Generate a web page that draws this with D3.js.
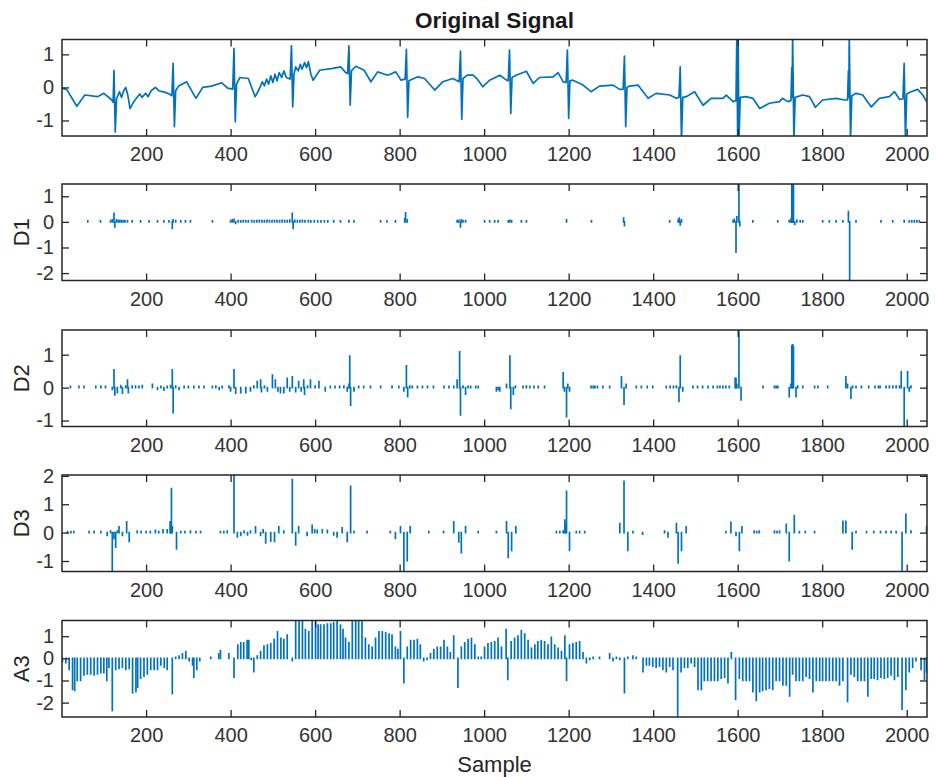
<!DOCTYPE html>
<html><head><meta charset="utf-8">
<script src="https://cdn.jsdelivr.net/npm/d3@7"></script>
<style>
body{margin:0;background:#fff;}
svg text{font-family:"Liberation Sans",Arial,Helvetica,sans-serif;}
</style></head>
<body><svg id="c" width="936" height="777"></svg>
<script>
// ---------- data ----------
const xTicks = [200,400,600,800,1000,1200,1400,1600,1800,2000];
const panelNames = ["", "D1", "D2", "D3", "A3"];
const titleText = "Original Signal";
const xLabelText = "Sample";

const sigX = [1,12,36,55,85,100,119,122,124,127,130,137,142,147,152,157,162,170,177,185,190,199,205,212,222,230,245,255,261,264,267,270,277,296,318,334,355,379,393,405,408,411,414,422,442,458,466,475,480,485,490,495,500,505,510,515,521,526,532,538,541,544,547,550,554,560,565,569,575,580,584,590,595,611,638,661,672,677,680,683,686,696,716,732,748,772,791,803,813,816,819,822,843,859,883,902,926,941,944,947,950,960,974,984,997,1013,1037,1053,1057,1060,1063,1066,1076,1100,1116,1131,1163,1175,1187,1194,1197,1200,1203,1210,1234,1253,1273,1305,1321,1329,1332,1335,1338,1344,1364,1388,1407,1439,1455,1461,1464,1467,1470,1478,1498,1518,1537,1565,1573,1589,1596,1598,1600,1601,1603,1606,1620,1636,1652,1675,1699,1706,1719,1726,1728,1729,1730,1733,1736,1754,1770,1784,1801,1833,1853,1860,1862,1863,1864,1867,1870,1880,1896,1916,1935,1959,1971,1983,1991,1994,1997,2000,2010,2026,2038,2047];
const sigY = [-0.03,-0.06,-0.57,-0.23,-0.28,-0.18,-0.38,-0.45,0.52,-1.35,-0.35,-0.13,-0.3,-0.1,0.0,-0.25,-0.64,-0.45,-0.33,-0.2,-0.3,-0.18,-0.28,-0.1,0.0,-0.1,-0.15,-0.2,-0.25,0.73,-1.19,-0.1,0.04,0.17,-0.33,0.0,0.04,0.14,-0.02,-0.05,1.18,-1.04,0.1,0.3,0.27,-0.28,-0.1,0.17,0.05,0.25,0.1,0.35,0.15,0.4,0.2,0.45,0.3,0.5,0.3,0.27,0.25,1.26,-0.59,0.4,0.62,0.5,0.7,0.55,0.75,0.6,0.78,0.4,0.22,0.52,0.57,0.62,0.45,0.42,1.26,-0.54,0.5,0.64,0.52,0.17,0.47,0.37,0.47,0.22,0.25,1.15,-0.91,0.2,0.32,0.27,-0.08,0.17,0.27,0.17,1.1,-0.96,0.27,0.37,0.37,0.25,0.02,0.22,0.37,0.22,0.2,1.13,-0.79,0.3,0.37,0.49,0.12,0.3,0.32,0.45,0.17,0.15,1.13,-0.94,0.2,0.22,0.07,-0.13,0.04,0.07,-0.06,-0.05,0.95,-1.19,0.0,0.04,0.07,-0.33,-0.18,-0.23,-0.33,-0.3,0.62,-1.6,-0.3,-0.28,-0.13,-0.54,-0.33,-0.33,-0.23,-0.43,-0.4,1.6,-1.6,1.6,-1.6,-0.3,-0.28,-0.33,-0.64,-0.48,-0.43,-0.33,-0.43,-0.4,0.6,-0.3,1.6,-1.6,-0.3,-0.23,-0.28,-0.6,-0.38,-0.33,-0.38,-0.38,0.5,-0.3,1.6,-1.6,-0.25,-0.18,-0.23,-0.59,-0.33,-0.28,-0.13,-0.36,-0.35,0.73,-1.6,-0.2,-0.13,-0.06,-0.23,-0.43];

const d1X = [62,92,116,120,124,126,130,134,138,142,146,150,156,167,187,207,227,242,254,262,264,270,282,293,305,357,400,404,408,412,418,424,430,436,442,450,456,462,468,474,480,486,492,498,504,510,516,522,528,534,540,546,548,552,558,564,570,576,584,590,598,606,614,622,630,644,660,680,692,755,770,790,812,814,818,936,940,944,946,950,956,1001,1013,1025,1033,1057,1061,1065,1088,1100,1195,1254,1330,1332,1439,1459,1462,1464,1467,1589,1592,1596,1598,1603,1605,1636,1695,1722,1726,1728,1729,1730,1731,1732,1735,1740,1748,1754,1801,1817,1833,1849,1862,1865,1880,1939,1967,1994,2006,2012,2018,2024,2030];
const d1Y = [0.04,0.04,0.05,0.08,0.33,-0.2,0.08,0.05,0.06,0.05,0.04,0.05,0.04,0.04,0.04,0.04,0.04,0.04,0.04,-0.25,0.08,0.05,0.04,0.04,0.04,0.04,0.05,0.08,0.1,-0.06,0.05,0.04,0.05,0.04,0.05,0.05,0.04,0.05,0.06,0.05,0.05,0.06,0.05,0.05,0.06,0.05,0.05,0.06,0.05,0.05,0.07,0.33,-0.25,0.06,0.05,0.05,0.06,0.05,0.05,0.04,0.05,0.04,0.04,0.04,0.04,0.04,0.04,0.05,0.04,0.04,0.04,0.04,0.12,0.35,0.08,0.05,0.06,-0.2,0.08,0.05,0.05,0.04,0.04,0.04,0.04,0.04,0.06,0.04,0.04,0.04,0.08,0.04,0.15,-0.15,0.04,0.08,0.15,-0.12,0.08,0.05,0.1,-1.18,0.2,1.6,-0.15,0.04,0.04,0.05,0.1,1.6,1.18,1.6,1.2,1.6,-0.1,0.06,0.04,0.04,0.04,0.04,0.04,0.04,0.4,-2.4,0.04,0.04,0.04,0.05,0.04,0.04,0.05,0.04,0.04];

const d2X = [21,41,53,81,93,104,120,124,126,132,140,144,152,156,158,167,175,183,191,215,227,235,242,250,258,262,264,270,278,290,300,313,325,337,357,365,373,380,396,400,408,412,424,436,447,455,463,471,473,480,487,499,506,512,518,526,534,540,546,554,561,567,573,575,582,589,600,609,624,636,647,658,668,676,680,682,684,692,703,715,731,755,782,798,810,816,819,824,830,842,854,866,880,905,917,928,936,942,944,950,956,962,968,980,986,1029,1033,1037,1053,1061,1063,1069,1074,1092,1100,1108,1118,1128,1143,1187,1190,1195,1198,1202,1253,1258,1262,1268,1281,1297,1325,1331,1336,1360,1372,1386,1399,1431,1440,1448,1455,1461,1464,1470,1494,1505,1517,1530,1542,1552,1558,1565,1572,1580,1594,1596,1598,1603,1608,1660,1687,1691,1695,1722,1726,1728,1730,1732,1738,1742,1754,1782,1790,1813,1856,1860,1868,1872,1880,1893,1910,1925,1933,1937,1951,1959,1967,1975,1983,1987,1994,2002,2006,2010,2048];
const d2Y = [0.04,0.04,0.04,0.04,0.05,0.04,-0.05,0.54,-0.22,-0.15,0.06,-0.17,0.05,0.23,-0.15,0.05,0.05,0.04,0.06,0.1,-0.05,0.04,-0.08,0.04,0.06,0.54,-0.76,0.05,-0.05,0.04,0.04,0.04,0.04,0.04,0.04,0.05,-0.05,0.04,0.05,-0.1,0.54,-0.17,-0.15,-0.15,-0.1,0.05,0.18,0.23,-0.12,0.05,-0.1,0.38,0.23,-0.1,-0.15,-0.15,0.28,-0.1,0.33,-0.12,0.18,-0.1,0.23,-0.2,0.05,0.23,0.05,0.18,-0.1,0.04,0.04,0.04,0.05,-0.1,0.1,0.96,-0.53,-0.1,0.04,0.04,0.04,0.04,0.05,0.04,-0.1,0.66,-0.27,0.05,0.04,0.04,0.04,0.04,0.04,0.04,0.04,0.04,0.23,1.09,-0.83,0.05,-0.2,0.04,0.04,0.04,0.04,-0.1,-0.05,-0.1,0.1,0.96,-0.63,-0.2,0.05,0.04,0.05,0.04,0.04,0.04,0.04,0.45,-0.1,-0.88,0.1,-0.1,0.04,0.04,0.04,0.04,0.04,0.04,0.33,-0.5,0.1,0.04,0.04,0.04,0.04,0.04,0.04,0.04,0.05,-0.42,0.96,-0.1,0.04,0.04,0.04,0.04,0.04,0.04,0.04,0.04,0.04,0.04,0.28,0.28,0.1,1.8,-0.37,0.04,0.04,0.04,0.04,-0.27,0.1,1.27,1.3,1.25,-0.27,0.05,0.04,0.04,0.04,0.04,0.33,0.1,-0.32,0.05,0.04,0.04,0.04,0.04,0.04,0.04,0.04,0.05,0.05,0.05,0.05,0.48,-1.3,0.48,-0.1,0.05,0.05];

const d3X = [14,22,29,65,77,93,108,116,120,124,128,132,136,144,154,160,179,188,200,210,222,230,240,250,257,258,260,262,272,282,292,305,318,329,376,384,392,408,416,424,432,440,447,459,471,477,483,495,504,514,526,546,554,561,581,593,599,605,617,629,644,652,664,676,684,692,723,778,790,802,810,818,825,869,904,928,940,946,956,986,1029,1053,1057,1065,1075,1171,1179,1187,1191,1193,1195,1202,1218,1226,1238,1321,1331,1340,1352,1375,1427,1435,1455,1459,1467,1478,1572,1584,1596,1604,1610,1639,1645,1651,1687,1693,1699,1715,1722,1734,1746,1760,1782,1849,1856,1871,1880,1905,1922,1938,1951,1963,1975,1989,1998,2010,2047];
const d3Y = [0.04,0.04,0.04,0.04,0.04,0.04,-0.1,0.05,-1.5,-0.2,-0.51,0.05,0.2,-0.1,0.38,-0.31,0.05,0.04,0.04,0.04,0.08,0.04,0.1,0.1,0.38,0.3,1.55,0.2,-0.57,0.04,0.04,0.05,0.04,0.04,0.04,0.04,0.05,2.1,-0.15,-0.1,0.05,-0.08,0.05,0.2,-0.1,0.1,-0.36,-0.3,-0.31,0.2,0.05,1.87,-0.43,0.2,-0.1,0.26,0.1,0.08,0.1,0.08,-0.08,-0.15,0.17,-0.31,1.63,0.04,0.04,0.04,-0.2,0.2,-1.5,-0.99,0.2,0.04,0.04,0.38,-0.33,-0.71,0.2,0.04,0.04,0.38,-0.87,-0.63,0.2,0.04,0.04,0.05,0.44,0.3,1.45,-0.63,0.04,0.04,0.04,0.32,1.81,-0.63,0.04,-0.05,0.05,-0.15,0.32,-1.07,-0.63,0.2,0.04,0.36,-0.1,-0.63,0.2,0.05,0.04,0.05,0.05,0.04,0.05,0.29,-0.99,0.6,0.04,0.04,0.04,0.4,0.4,-0.57,0.04,0.04,0.04,0.04,0.04,0.04,0.04,-1.5,0.64,0.05,0.2];

const a3X = [2,10,18,26,31,37,45,53,61,69,77,85,93,100,107,112,120,128,136,144,152,160,168,176,180,187,195,203,211,219,227,235,243,250,262,270,278,286,294,302,310,313,320,327,353,372,376,396,408,417,424,431,439,443,449,455,463,471,479,487,495,503,511,519,526,534,546,554,562,570,577,585,593,601,607,613,621,629,637,644,652,660,666,672,680,688,696,703,711,719,727,735,743,751,759,767,775,782,790,796,802,810,818,826,834,842,849,857,865,873,881,889,897,905,913,920,928,938,946,954,962,970,978,986,993,1001,1009,1017,1025,1033,1041,1052,1056,1064,1072,1080,1088,1096,1104,1112,1120,1127,1135,1143,1151,1159,1167,1175,1183,1191,1195,1202,1210,1218,1226,1234,1242,1250,1258,1273,1297,1305,1313,1321,1332,1340,1352,1360,1376,1384,1391,1399,1407,1415,1423,1431,1439,1447,1458,1466,1474,1482,1490,1498,1506,1514,1521,1529,1537,1545,1553,1561,1569,1577,1585,1595,1604,1612,1620,1628,1636,1644,1652,1659,1667,1675,1683,1691,1699,1707,1715,1723,1730,1738,1746,1754,1762,1770,1778,1786,1794,1801,1809,1817,1825,1833,1841,1849,1860,1868,1876,1884,1892,1900,1908,1916,1923,1931,1939,1947,1955,1963,1971,1979,1989,1998,2006,2014,2022,2034,2042,2047];
const a3Y = [-0.15,-0.2,-0.5,-1.4,-1.45,-1.0,-1.0,-0.75,-0.7,-0.7,-0.75,-0.7,-0.65,-0.65,-1.0,-0.4,-2.35,-0.5,-0.45,-0.4,-0.5,-0.45,-1.55,-1.5,-1.3,-0.9,-0.8,-0.7,-0.5,-0.5,-0.5,-0.3,-0.4,-0.5,-1.6,0.05,0.1,0.2,0.3,-0.1,-0.3,-0.85,-0.5,-0.1,0.05,0.2,0.35,0.2,-0.85,0.6,0.7,0.7,0.8,0.8,-0.05,-0.6,0.1,0.3,0.55,0.6,0.65,0.85,1.2,0.9,0.85,1.05,-0.1,1.75,1.75,1.75,1.3,1.2,1.75,1.75,1.5,1.5,1.5,1.55,1.55,1.6,1.75,1.5,1.3,0.9,0.7,1.75,1.75,1.75,1.75,0.9,0.6,0.5,0.9,1.2,1.2,1.15,1.1,1.05,0.5,0.4,1.2,-1.1,0.5,0.8,0.8,0.85,0.6,-0.1,-0.05,0.2,0.4,0.5,0.5,0.8,0.5,0.25,1.0,-1.3,0.5,0.7,0.85,0.9,0.6,0.05,0.05,0.5,0.65,0.7,0.75,0.9,0.5,1.3,-0.95,0.75,0.9,1.0,1.25,1.1,0.8,0.45,0.6,0.75,0.8,0.75,0.6,0.95,0.6,0.45,0.3,1.0,-1.0,0.6,0.65,0.7,0.75,0.25,-0.2,-0.05,0.05,0.05,0.2,-0.1,0.05,-0.05,-1.55,0.05,0.1,0.05,-0.6,-0.3,-0.3,-0.35,-0.4,-0.35,-0.5,-0.6,-0.35,-0.5,-2.7,-0.6,-0.4,-0.4,-0.2,-0.35,-1.4,-1.4,-1.0,-1.0,-1.0,-1.0,-1.0,-0.9,-0.85,-1.1,0.25,-1.85,-0.9,-1.0,-1.0,-1.0,-1.5,-1.9,-1.5,-1.45,-1.4,-1.35,-1.4,-1.0,-1.0,-1.2,-1.2,-1.7,-0.7,-1.0,-1.0,-1.0,-0.8,-0.9,-1.5,-1.0,-1.0,-1.0,-1.0,-1.0,-1.0,-1.0,-1.2,-1.0,-1.95,-0.7,-0.8,-1.0,-1.0,-1.0,-1.7,-0.9,-0.9,-0.95,-0.85,-0.9,-0.85,-0.75,-0.95,-0.8,-2.3,-1.4,-0.6,-0.4,-0.1,-0.5,-0.95,-0.6];

const yTicksP = [[-1,0,1],[-2,-1,0,1],[-1,0,1],[-1,0,1,2],[-2,-1,0,1]];

// ---------- layout ----------
const svg = d3.select("#c");
const L = 62, R = 927, PH = 96.5;
const tops = [39.5, 184, 330, 475, 620.5];
const yDomains = [[-1.47,1.45],[-2.29,1.48],[-1.18,1.75],[-1.37,2.03],[-2.65,1.71]];
const blue = "#0072BD", axCol = "#262626";
const x = d3.scaleLinear().domain([1,2048]).range([L,R]);

const series = [null,[d1X,d1Y],[d2X,d2Y],[d3X,d3Y],[a3X,a3Y]];

tops.forEach((top,i)=>{
  const y = d3.scaleLinear().domain(yDomains[i]).range([top+PH, top]);
  const g = svg.append("g");
  const cid = "clip"+i;
  svg.append("clipPath").attr("id",cid).append("rect")
     .attr("x",L).attr("y",top).attr("width",R-L).attr("height",PH);
  const plot = g.append("g").attr("clip-path",`url(#${cid})`);
  if(i===0){
    const pts = sigX.map((s,k)=>[s,sigY[k]]);
    plot.append("path").attr("d", d3.line().x(d=>x(d[0])).y(d=>y(d[1]))(pts))
      .attr("fill","none").attr("stroke",blue).attr("stroke-width",1.7)
      .attr("stroke-linejoin","round");
  } else {
    const [sx,sy] = series[i];
    plot.selectAll("line").data(sx.map((s,k)=>[s,sy[k]])).join("line")
      .attr("x1",d=>x(d[0])).attr("x2",d=>x(d[0]))
      .attr("y1",y(0)).attr("y2",d=>y(d[1]))
      .attr("stroke",blue).attr("stroke-width",1.7).attr("stroke-linecap","square");
  }
  // axes
  const fs = "20px";
  const gb = g.append("g").attr("transform",`translate(0,${top+PH})`)
    .call(d3.axisBottom(x).tickValues(xTicks).tickSize(-7).tickPadding(11).tickFormat(d3.format("d")));
  const gt = g.append("g").attr("transform",`translate(0,${top})`)
    .call(d3.axisTop(x).tickValues(xTicks).tickSize(-7).tickFormat(""));
  const gl = g.append("g").attr("transform",`translate(${L},0)`)
    .call(d3.axisLeft(y).tickValues(yTicksP[i]).tickSize(-7).tickPadding(8).tickFormat(d3.format("d")));
  const gr = g.append("g").attr("transform",`translate(${R},0)`)
    .call(d3.axisRight(y).tickValues(yTicksP[i]).tickSize(-7).tickFormat(""));
  [gb,gt,gl,gr].forEach(a=>{
    a.select(".domain").remove();
    a.selectAll("line").attr("stroke",axCol).attr("stroke-width",1.3);
    a.selectAll("text").attr("fill","#333").style("font-size",fs)
     .style("font-family",'"Liberation Sans",Arial,sans-serif');
  });
  gl.selectAll("text").text(d=>d<0?"-"+Math.abs(d):d);
  g.append("rect").attr("x",L).attr("y",top).attr("width",R-L).attr("height",PH)
    .attr("fill","none").attr("stroke",axCol).attr("stroke-width",1.5);
  if(panelNames[i]){
    g.append("text").attr("transform",`translate(29,${top+PH/2}) rotate(-90)`)
      .attr("text-anchor","middle").attr("fill","#262626")
      .style("font-size","22px").text(panelNames[i]);
  }
});

svg.append("text").attr("x",(L+R)/2).attr("y",28).attr("text-anchor","middle")
  .attr("fill","#1a1a1a").style("font-size","22.5px").style("font-weight","bold")
  .text(titleText);
svg.append("text").attr("x",(L+R)/2).attr("y",772).attr("text-anchor","middle")
  .attr("fill","#262626").style("font-size","22px").text(xLabelText);
</script></body></html>
